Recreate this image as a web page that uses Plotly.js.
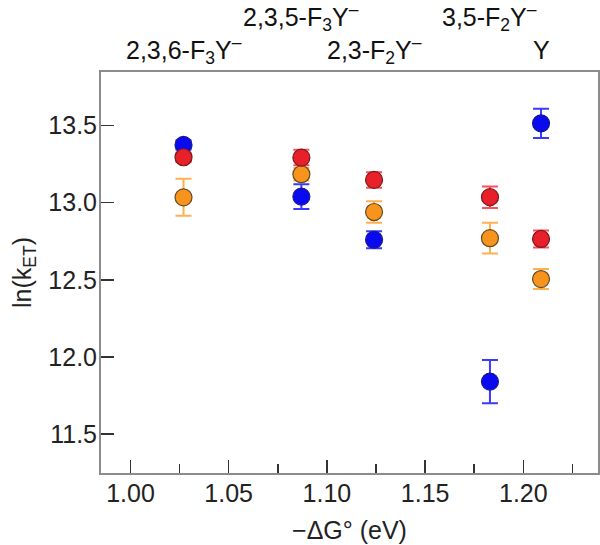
<!DOCTYPE html>
<html>
<head>
<meta charset="utf-8">
<script src="https://cdn.plot.ly/plotly-3.0.1.min.js"></script>
<style>
	html, body { margin: 0; padding: 0; background: #fff; }
	#chart { width: 600px; height: 545px; }
</style>
</head>
<body>
<div id="chart"></div>
<script>
(function () {

	'use strict';

	// driving force for each tyrosine analogue (eV)
	const dG = [1.027, 1.087, 1.124, 1.183, 1.209];

	// top labels, one per analogue, alternating rows
	const analogues = [
		'2,3,6-F<sub>3</sub>Y<sup>–</sup>',
		'2,3,5-F<sub>3</sub>Y<sup>–</sup>',
		'2,3-F<sub>2</sub>Y<sup>–</sup>',
		'3,5-F<sub>2</sub>Y<sup>–</sup>',
		'Y'
	];
	const labelRow = [0, 1, 0, 1, 0];

	// ln(kET) values and error bars
	const blueY   = [13.375, 13.040, 12.760, 11.840, 13.515];
	const blueErr = [0.030, 0.080, 0.055, 0.140, 0.095];

	const orangeY   = [13.035, 13.185, 12.940, 12.770, 12.505];
	const orangeErr = [0.120, 0.040, 0.070, 0.100, 0.065];

	const redY   = [13.295, 13.293, 13.148, 13.036, 12.765];
	const redErr = [0.030, 0.050, 0.050, 0.070, 0.055];

	const font = 'Liberation Sans, Arial, sans-serif';
	const fsize = 25;

	/**
	* one series of points with symmetric error bars
	*/
	const series = ( y, err, fill, edge, barColor ) => ({
		x: dG,
		y: y,
		type: 'scatter',
		mode: 'markers',
		marker: {
			size: 17,
			color: fill,
			line: { color: edge, width: 1.2 }
		},
		error_y: {
			type: 'data',
			array: err,
			visible: true,
			color: barColor,
			thickness: 2,
			width: 8
		},
		hoverinfo: 'x+y'
	});

	const data = [
		series( blueY, blueErr, '#0a0af0', '#1a1a8a', '#3a3aff' ),
		series( orangeY, orangeErr, '#f7941d', '#6a4a20', '#ffb04f' ),
		series( redY, redErr, '#e8202a', '#7a1a1a', '#ff4d5a' ),
	];

	const annotations = analogues.map(( t, i ) => ({
		text: t,
		x: dG[i],
		xref: 'x',
		y: labelRow[i] ? 1.138 : 1.055,
		yref: 'paper',
		xanchor: 'center',
		yanchor: 'middle',
		showarrow: false,
		font: { family: font, size: fsize, color: '#111' }
	}));

	const layout = {
		width: 600,
		height: 545,
		margin: { l: 101, r: 2, t: 72, b: 72 },
		paper_bgcolor: '#fff',
		plot_bgcolor: '#fff',
		showlegend: false,
		font: { family: font, size: fsize, color: '#222' },
		xaxis: {
			range: [0.985, 1.238],
			tickvals: [1.00, 1.05, 1.10, 1.15, 1.20],
			ticktext: ['1.00', '1.05', '1.10', '1.15', '1.20'],
			ticks: 'inside',
			ticklen: 13,
			tickwidth: 1.5,
			tickcolor: '#333',
			minor: { tickvals: [1.025, 1.075, 1.125, 1.175, 1.225], ticks: 'inside', ticklen: 9, tickwidth: 1.5, tickcolor: '#333' },
			showline: true,
			linecolor: '#8c8c8c',
			linewidth: 2,
			mirror: true,
			showgrid: false,
			zeroline: false,
			ticklabelstandoff: -3,
			title: { text: '−ΔG° (eV)', standoff: 15, font: { family: font, size: fsize, color: '#222' } }
		},
		yaxis: {
			range: [11.247, 13.848],
			tickvals: [11.5, 12.0, 12.5, 13.0, 13.5],
			ticktext: ['11.5', '12.0', '12.5', '13.0', '13.5'],
			ticks: 'inside',
			ticklen: 13,
			tickwidth: 1.5,
			tickcolor: '#333',
			showline: true,
			linecolor: '#8c8c8c',
			linewidth: 2,
			mirror: true,
			showgrid: false,
			zeroline: false,
			ticklabelstandoff: -3,
			title: { text: 'ln(k<sub>ET</sub>)', standoff: 10, font: { family: font, size: fsize, color: '#222' } }
		},
		annotations: annotations
	};

	Plotly.newPlot( 'chart', data, layout, { displayModeBar: false, staticPlot: true } );

})();
</script>
</body>
</html>
